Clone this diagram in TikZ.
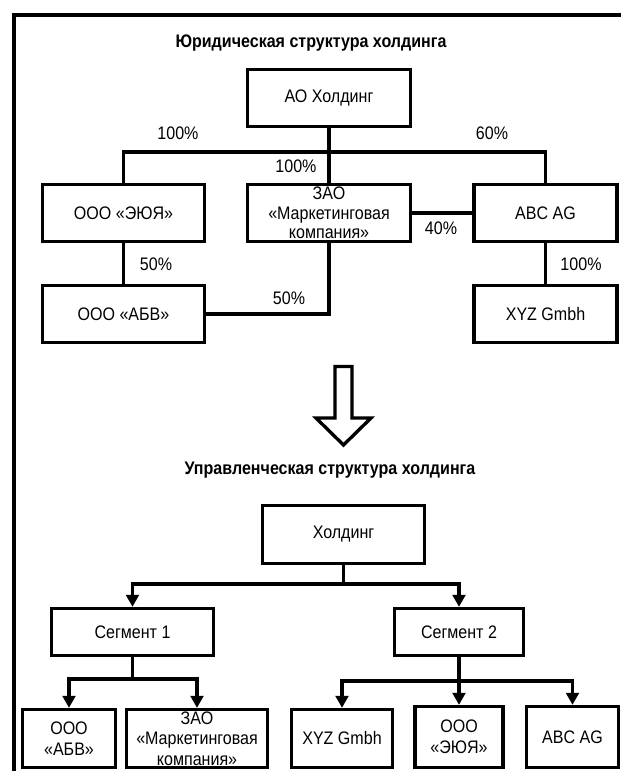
\documentclass[tikz,border=0pt]{standalone}
\usepackage{fontspec}
\setmainfont[FakeStretch=0.885]{Liberation Sans}
\usetikzlibrary{arrows.meta}
\begin{document}
\begin{tikzpicture}[x=0.75pt,y=-0.75pt,
  box/.style 2 args={draw,line width=2.5pt,fill=white,align=center,inner sep=1pt,
    minimum width={#1*0.75pt},minimum height={#2*0.75pt},
    font=\fontsize{13.6}{14.6}\selectfont},
  lbox/.style 2 args={box={#1}{#2},font=\fontsize{13.6}{15.4}\selectfont},
  link/.style={line width=2.5pt},
  down/.style={line width=2.5pt,-{Triangle[width=9.5pt,length=9pt]}},
  pct/.style={font=\fontsize{13.6}{14}\selectfont,inner sep=0pt},
  heading/.style={font=\bfseries\fontsize{13.6}{14}\selectfont,inner sep=0pt}]
\useasboundingbox (0,0) rectangle (621,771);
\clip (0,0) rectangle (621,771);
\fill[white] (0,0) rectangle (621,771);
% outer frame (only its top and left sides fall inside the page)
\draw[line width=3pt] (14,800) -- (14,15) -- (660,15);

% ---- legal structure ----
\node[heading] (t1) at (311,43) {Юридическая структура холдинга};
\node[box={163}{57}] (ao)  at (329,98)    {АО Холдинг};
\node[box={162}{57}] (eyu) at (123.5,213) {ООО «ЭЮЯ»};
\node[box={163}{57}] (zao) at (329,213)   {ЗАО\\«Маркетинговая\\компания»};
\node[box={143}{57}] (abc) at (545.5,213) {ABC AG};
\node[box={162}{57}] (abv) at (123.5,314) {ООО «АБВ»};
\node[box={143}{57}] (xyz) at (545.5,314) {XYZ Gmbh};

\coordinate (bus) at (329,152);
\draw[link] (eyu.north) |- (bus) -| (abc.north);
\draw[link] (ao.south) -- (zao.north);
\draw[link] (zao.east) -- (abc.west);
\draw[link] (eyu.south) -- (abv.north);
\draw[link] (abv.east) -| (zao.south);
\draw[link] (abc.south) -- (xyz.north);

\node[pct] (p1) at (178,133) {100\%};
\node[pct] (p2) at (492,133) {60\%};
\node[pct] (p3) at (296,166) {100\%};
\node[pct] (p4) at (441,228) {40\%};
\node[pct] (p5) at (156,264) {50\%};
\node[pct] (p6) at (289,298) {50\%};
\node[pct] (p7) at (581,264) {100\%};

% ---- transition arrow ----
\draw[line width=2.5pt,fill=white,line join=miter]
  (335,366.5) -- (352,366.5) -- (352,418) -- (371,418) -- (343.5,445)
  -- (316,418) -- (335,418) -- cycle;

% ---- management structure ----
\node[heading] (t2) at (330,470) {Управленческая структура холдинга};
\node[box={162}{58}] (hold) at (343.5,534.5) {Холдинг};
\node[box={162}{47}] (seg1) at (132.5,632) {Сегмент 1};
\node[box={129}{47}] (seg2) at (459,632)   {Сегмент 2};
\node[lbox={93}{58}]  (b1) at (69,738.5)   {ООО\\«АБВ»};
\node[lbox={141}{58}] (b2) at (197,738.5)  {ЗАО\\«Маркетинговая\\компания»};
\node[lbox={101}{58}] (b3) at (342,738.5)  {XYZ Gmbh};
\node[lbox={88}{61}]  (b4) at (459,737)    {ООО\\«ЭЮЯ»};
\node[lbox={92}{61}]  (b5) at (572.5,737)  {ABC AG};

\coordinate (hbus) at (343.5,584);
\draw[link] (hold.south) -- (hbus);
\draw[down] (hbus) -| (seg1.north);
\draw[down] (hbus) -| (seg2.north);

\coordinate (s1bus) at (132.5,679);
\draw[link] (seg1.south) -- (s1bus);
\draw[down] (s1bus) -| (b1.north);
\draw[down] (s1bus) -| (b2.north);

\coordinate (s2bus) at (459,681);
\draw[link] (seg2.south) -- (s2bus);
\draw[down] (s2bus) -| (b3.north);
\draw[down] (s2bus) -- (b4.north);
\draw[down] (s2bus) -| (b5.north);
\end{tikzpicture}
\end{document}
